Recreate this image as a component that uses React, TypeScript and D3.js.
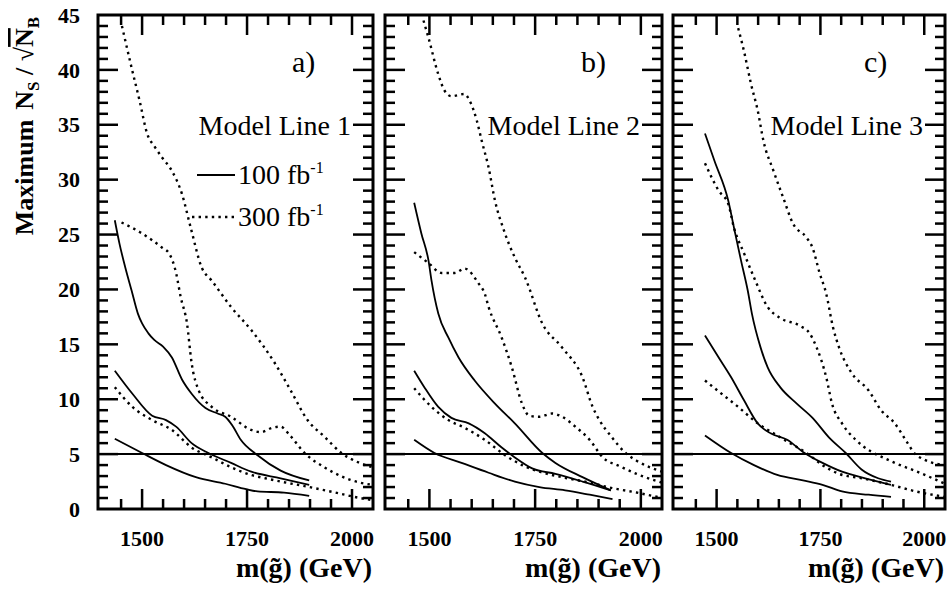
import React from "react";
import * as d3 from "d3";

type Pt = [number, number];

// gluino mass (GeV) vs maximum N_S/sqrt(N_B)
const aSolidHi: Pt[] = [[1435, 26.3], [1446, 24.2], [1460, 22], [1475, 19.9], [1490, 17.8], [1500, 16.9], [1515, 16], [1529, 15.4], [1550, 14.8], [1571, 13.8], [1595, 11.8], [1618, 10.5], [1651, 9.2], [1680, 8.7], [1698, 8.4], [1715, 7.6], [1735, 6.3], [1775, 4.9], [1830, 3.5], [1898, 2.6]];
const aSolidMid: Pt[] = [[1435, 12.6], [1477, 10.5], [1524, 8.5], [1557, 8.1], [1581, 7.5], [1618, 6.0], [1658, 5.1], [1712, 4.2], [1760, 3.4], [1830, 2.8], [1898, 2.2]];
const aSolidLo: Pt[] = [[1435, 6.4], [1500, 5.1], [1557, 4.0], [1628, 2.9], [1698, 2.3], [1748, 1.8], [1775, 1.6], [1838, 1.5], [1898, 1.2]];
const aDotHi: Pt[] = [[1452, 44], [1475, 40.2], [1494, 37.2], [1512, 34.2], [1530, 33], [1548, 32], [1571, 30.8], [1595, 28.7], [1616, 25.6], [1642, 22], [1666, 20.8], [1712, 18.4], [1760, 16.3], [1816, 13.3], [1854, 10.8], [1894, 8.1], [1934, 6.6], [1975, 5.1], [2018, 4.2], [2050, 3.8]];
const aDotMid: Pt[] = [[1451, 26.1], [1500, 25.1], [1548, 23.8], [1564, 23.3], [1581, 21.5], [1592, 19.3], [1607, 16.9], [1618, 13.3], [1635, 10.8], [1666, 9.3], [1712, 8.4], [1760, 7.2], [1783, 7.0], [1810, 7.4], [1830, 7.5], [1850, 6.8], [1887, 5.1], [1934, 3.8], [2019, 2.4], [2050, 2.2]];
const aDotLo: Pt[] = [[1435, 11.1], [1477, 9.3], [1524, 8.1], [1571, 7.2], [1618, 5.6], [1666, 4.7], [1712, 3.8], [1760, 3.1], [1793, 2.8], [1830, 2.5], [1898, 2.0], [1960, 1.5], [2019, 1.0], [2050, 0.8]];

const bSolidHi: Pt[] = [[1464, 27.9], [1481, 25.1], [1498, 22.6], [1505, 20.8], [1521, 17.8], [1545, 15.6], [1569, 13.8], [1607, 11.7], [1655, 9.6], [1702, 7.8], [1767, 5.1], [1798, 4.2], [1862, 2.9], [1929, 1.7]];
const bSolidMid: Pt[] = [[1464, 12.6], [1488, 11.1], [1521, 9.3], [1552, 8.3], [1593, 7.8], [1631, 6.9], [1671, 5.6], [1702, 4.7], [1743, 3.7], [1798, 3.2], [1862, 2.5], [1929, 1.7]];
const bSolidLo: Pt[] = [[1464, 6.3], [1512, 5.1], [1576, 4.2], [1640, 3.3], [1702, 2.5], [1760, 2.0], [1821, 1.7], [1879, 1.3], [1933, 0.9]];
const bDotHi: Pt[] = [[1486, 44.5], [1498, 42.9], [1521, 39.6], [1536, 38.1], [1552, 37.6], [1583, 37.8], [1595, 37.2], [1612, 35.4], [1624, 33.5], [1640, 31.1], [1655, 28.1], [1676, 25.4], [1702, 22.9], [1726, 21.1], [1767, 16.9], [1814, 14.7], [1862, 12], [1886, 9.3], [1902, 8.1], [1930, 6.6], [1964, 5.1], [1990, 4.4], [2050, 3.4]];
const bDotMid: Pt[] = [[1464, 23.4], [1498, 22.4], [1529, 21.5], [1560, 21.5], [1583, 21.9], [1617, 20.5], [1631, 19.6], [1640, 18.4], [1671, 15.6], [1695, 12.9], [1719, 9.6], [1736, 8.5], [1760, 8.4], [1790, 8.7], [1814, 8.4], [1845, 7.5], [1879, 6.3], [1910, 4.7], [1950, 3.9], [1990, 3.2], [2050, 2.4]];
const bDotLo: Pt[] = [[1464, 11], [1505, 9.3], [1545, 8.1], [1583, 7.4], [1631, 6.3], [1679, 4.9], [1719, 4.0], [1760, 3.4], [1814, 2.9], [1879, 2.4], [1933, 1.9], [1990, 1.5], [2050, 1.0]];

const cSolidHi: Pt[] = [[1472, 34.2], [1495, 31.7], [1528, 28.1], [1542, 25.6], [1559, 22.6], [1575, 19.9], [1585, 17.8], [1606, 14.7], [1623, 12.9], [1653, 11.1], [1693, 9.6], [1731, 8.3], [1771, 6.5], [1811, 5.1], [1849, 3.6], [1889, 2.8], [1920, 2.5]];
const cSolidMid: Pt[] = [[1472, 15.8], [1505, 13.8], [1535, 12], [1566, 9.9], [1599, 7.8], [1630, 6.9], [1670, 6.3], [1708, 5.2], [1755, 4.2], [1802, 3.4], [1858, 2.8], [1920, 2.2]];
const cSolidLo: Pt[] = [[1472, 6.7], [1535, 5.1], [1590, 4.0], [1646, 3.1], [1708, 2.6], [1755, 2.2], [1802, 1.6], [1866, 1.3], [1920, 1.1]];
const cDotHi: Pt[] = [[1552, 43.8], [1566, 41.7], [1583, 38.7], [1599, 36.3], [1613, 33.5], [1637, 30.8], [1660, 28.4], [1684, 26], [1717, 24.7], [1731, 23.8], [1748, 21.5], [1764, 19.6], [1780, 16.6], [1795, 14.7], [1825, 12.4], [1866, 10.8], [1896, 9], [1929, 7.8], [1960, 6], [1976, 5.1], [2000, 4.5], [2050, 4.0]];
const cDotMid: Pt[] = [[1472, 31.5], [1505, 29], [1528, 27.8], [1542, 25.6], [1566, 23.3], [1590, 21.1], [1623, 18.4], [1653, 17.4], [1700, 16.7], [1724, 16], [1741, 14.7], [1764, 12], [1778, 9.6], [1802, 7.8], [1835, 6.3], [1873, 5.2], [1906, 4.6], [1929, 4.2], [1983, 3.4], [2050, 2.3]];
const cDotLo: Pt[] = [[1472, 11.7], [1512, 10.5], [1552, 9.3], [1599, 7.8], [1637, 6.9], [1677, 6], [1717, 5.1], [1755, 4], [1795, 3.2], [1850, 2.8], [1920, 2.2], [1980, 1.6], [2050, 1.1]];

const panelTags = ["a)", "b)", "c)"];
const modelNames = ["Model Line 1", "Model Line 2", "Model Line 3"];
const yTickLabels = [0, 5, 10, 15, 20, 25, 30, 35, 40, 45];
const xTickLabels = [1500, 1750, 2000];
const legendLabels = ["100 fb", "300 fb"];
const xTitle = "m(g\u0303) (GeV)";
const discoveryLevel = 5;

const solidSets = [[aSolidHi, aSolidMid, aSolidLo], [bSolidHi, bSolidMid, bSolidLo], [cSolidHi, cSolidMid, cSolidLo]];
const dottedSets = [[aDotHi, aDotMid, aDotLo], [bDotHi, bDotMid, bDotLo], [cDotHi, cDotMid, cDotLo]];

const lefts = [98, 385, 673];
const rights = [373, 662, 945];
const TOP = 15;
const BOTTOM = 509;
const FONT = "'Liberation Serif', 'Times New Roman', serif";

const y = d3.scaleLinear().domain([0, 45]).range([BOTTOM, TOP]);

function Panel({ i }: { i: number }) {
  const left = lefts[i], right = rights[i];
  const x = d3.scaleLinear().domain([1395, 2050]).range([left, right]);
  const line = d3.line<Pt>().x(d => x(d[0])).y(d => y(d[1])).curve(d3.curveMonotoneX);
  const yMinor = d3.range(1, 45);
  const xMinor = d3.range(1400, 2051, 50).filter(m => x(m) > left + 3 && x(m) < right - 3);
  const clipId = "clip" + i;
  return (
    <g>
      <clipPath id={clipId}>
        <rect x={left} y={TOP} width={right - left} height={BOTTOM - TOP} />
      </clipPath>
      <g clipPath={`url(#${clipId})`}>
        {solidSets[i].map((d, k) => (
          <path key={"s" + k} d={line(d) || ""} fill="none" stroke="#000" strokeWidth={1.8} />
        ))}
        {dottedSets[i].map((d, k) => (
          <path key={"d" + k} d={line(d) || ""} fill="none" stroke="#000" strokeWidth={2.4} strokeDasharray="2.4 4.2" />
        ))}
        <line x1={left} x2={right} y1={y(discoveryLevel)} y2={y(discoveryLevel)} stroke="#000" strokeWidth={2} />
      </g>
      {yMinor.map(v => {
        const len = v % 5 === 0 ? 20 : 10;
        return (
          <g key={"yt" + v}>
            <line x1={left} x2={left + len} y1={y(v)} y2={y(v)} stroke="#000" strokeWidth={2.5} />
            <line x1={right} x2={right - len} y1={y(v)} y2={y(v)} stroke="#000" strokeWidth={2.5} />
          </g>
        );
      })}
      {xMinor.map(m => {
        const len = m % 250 === 0 ? 20 : 10;
        return (
          <g key={"xt" + m}>
            <line x1={x(m)} x2={x(m)} y1={BOTTOM} y2={BOTTOM - len} stroke="#000" strokeWidth={2.5} />
            <line x1={x(m)} x2={x(m)} y1={TOP} y2={TOP + len} stroke="#000" strokeWidth={2.5} />
          </g>
        );
      })}
      <rect x={left} y={TOP} width={right - left} height={BOTTOM - TOP} fill="none" stroke="#000" strokeWidth={3} />
      {xTickLabels.map(m => (
        <text key={"xl" + m} x={x(m)} y={546} textAnchor="middle" fontFamily={FONT} fontWeight="bold" fontSize={22}>{m}</text>
      ))}
      <text x={right - 81} y={72} fontFamily={FONT} fontSize={30}>{panelTags[i]}</text>
      <text x={right - 22} y={135} textAnchor="end" fontFamily={FONT} fontSize={28}>{modelNames[i]}</text>
      <text x={right - 1} y={577} textAnchor="end" fontFamily={FONT} fontWeight="bold" fontSize={28}>{xTitle}</text>
    </g>
  );
}

export default function App() {
  return (
    <svg width={951} height={590} style={{ position: "absolute", left: 0, top: 0, background: "#fff" }}>
      <rect width={951} height={590} fill="#fff" />
      {[0, 1, 2].map(i => <Panel key={i} i={i} />)}
      {yTickLabels.map(v => (
        <text key={"yl" + v} x={80} y={y(v)} dy="0.35em" textAnchor="end" fontFamily={FONT} fontWeight="bold" fontSize={22}>{v}</text>
      ))}
      <text transform="translate(33,126) rotate(-90)" textAnchor="middle" fontFamily={FONT} fontWeight="bold" fontSize={26}>
        Maximum<tspan dx={10}>N</tspan><tspan dy={6} fontSize={17}>S</tspan><tspan dy={-6}> / </tspan><tspan fontWeight="normal">√</tspan><tspan style={{ textDecoration: "overline" }}>N</tspan><tspan dy={6} fontSize={17}>B</tspan>
      </text>
      {/* legend, panel a */}
      <line x1={197} x2={235} y1={175} y2={175} stroke="#000" strokeWidth={1.8} />
      <line x1={192} x2={234} y1={217} y2={217} stroke="#000" strokeWidth={2.4} strokeDasharray="2.4 4.2" />
      {legendLabels.map((t, k) => (
        <text key={t} x={238} y={k === 0 ? 184 : 226} fontFamily={FONT} fontSize={28}>
          {t}<tspan dy={-11} fontSize={16}>-1</tspan>
        </text>
      ))}
    </svg>
  );
}
